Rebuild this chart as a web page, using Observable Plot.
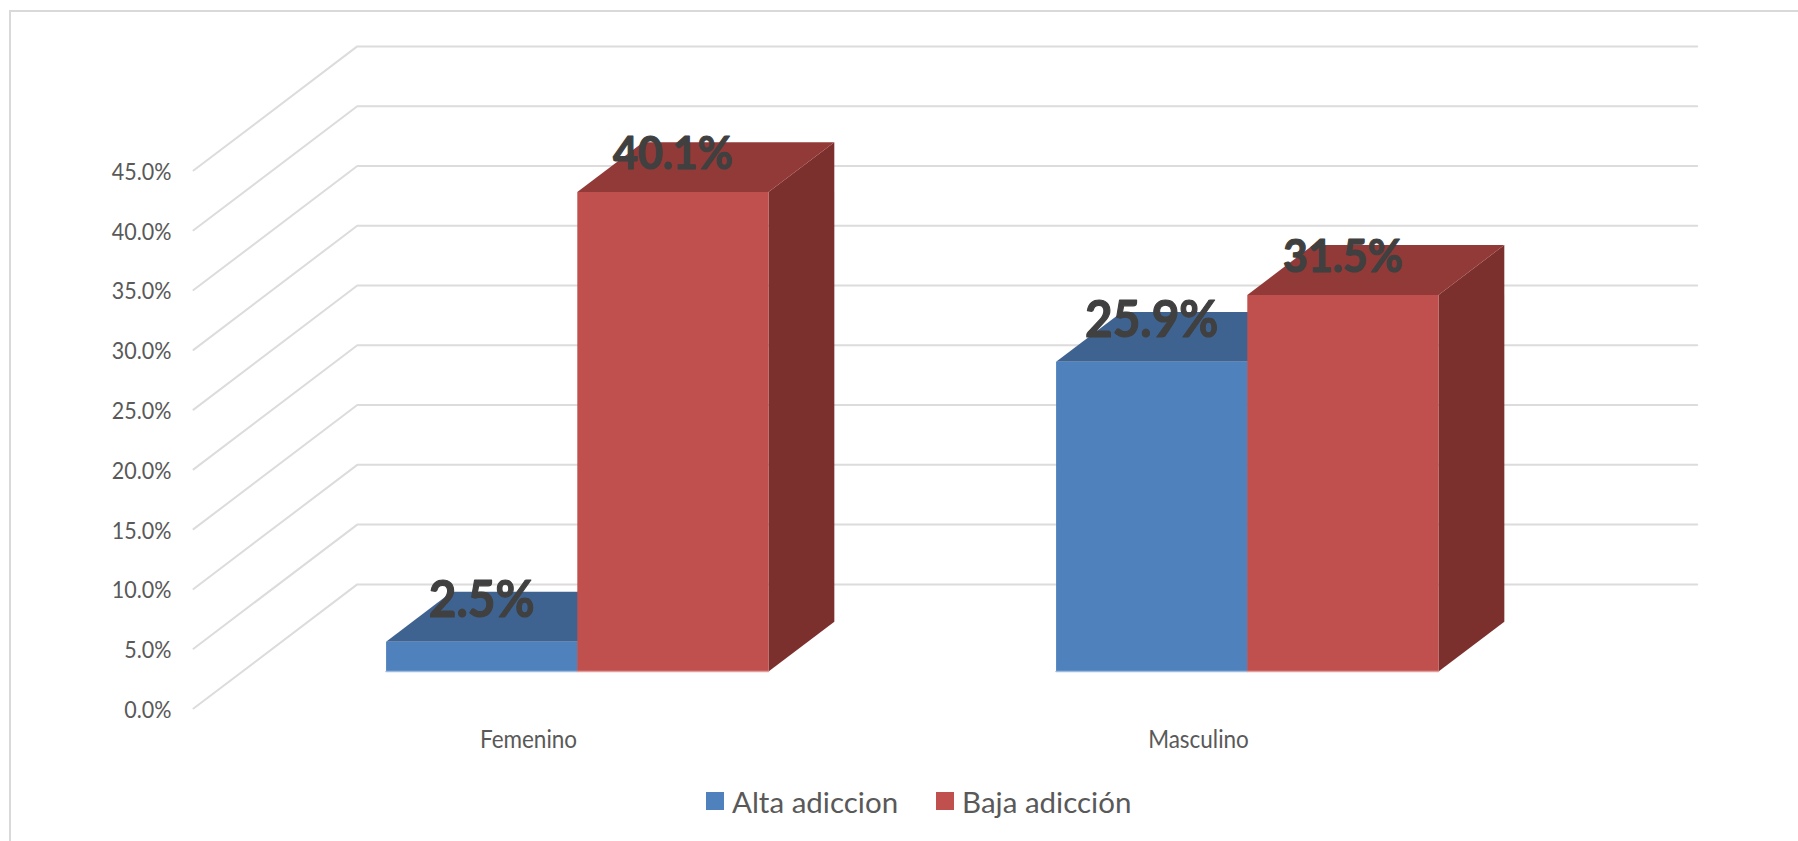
<!DOCTYPE html>
<html>
<head>
<meta charset="utf-8">
<script src="https://cdn.jsdelivr.net/npm/d3@7"></script>
<script src="https://cdn.jsdelivr.net/npm/@observablehq/plot@0.6"></script>
<style>
  html, body { margin: 0; padding: 0; background: #fff; overflow: hidden; }
  #frame { position: absolute; left: 9px; top: 10px; width: 1789px; height: 831px; border-top: 2px solid #d9d9d9; border-left: 2px solid #d9d9d9; box-sizing: border-box; pointer-events: none; }
  #chart svg { display: block; }
  #legend { position: absolute; left: 706px; top: 779px; height: 44px; display: flex; align-items: center; font: 29.5px Lato, sans-serif; color: #595959; }
  #legend i { display: inline-block; width: 18px; height: 18px; margin-right: 8px; }
  #legend span { margin-right: 38px; }
</style>
</head>
<body>
<div id="frame"></div>
<div id="chart"></div>
<div id="legend"></div>
<script>
const categories = ["Femenino", "Masculino"];
const seriesNames = ["Alta adiccion", "Baja adicción"];
const altaValues = [2.5, 25.9];
const bajaValues = [40.1, 31.5];
const yTicks = [0, 5, 10, 15, 20, 25, 30, 35, 40, 45];

const frontColors = ["#4F81BD", "#C0504D"];
const topColors = ["#3F6391", "#923A38"];
const sideColors = ["#3F6391", "#7C302E"];
const edgeColors = ["#9DBBDF", "#E29E9C"];
const gridColor = "#DCDCDC";
const labelSizes = [51.3, 46];
const labelOffsets = [-41, -37.5];

// oblique projection of the chart's depth axis, in data units per unit of depth
const depthX = 0.2444;
const depthY = 10.38;
const barFront = 0.298;
const barBack = 0.70;
const barStart = 0.2146;
const barWidth = 0.2854;
const px = (u, d) => u + d * depthX;
const py = (v, d) => v + d * depthY;

const gridRows = yTicks.flatMap((v) => [
  {v, x: px(0, 0), y: py(v, 0)},
  {v, x: px(0, 1), y: py(v, 1)},
  {v, x: px(2, 1), y: py(v, 1)}
]);

const values = [altaValues, bajaValues];
const marks = [
  Plot.line(gridRows, {x: "x", y: "y", z: "v", stroke: gridColor, strokeWidth: 2, curve: "linear"})
];
const labels = [[], []];
categories.forEach((c, ci) => {
  values.forEach((vals, si) => {
    const v = vals[ci];
    const x1 = ci + barStart + si * barWidth;
    const x2 = x1 + barWidth;
    const top = [
      {x: px(x1, barFront), y: py(v, barFront)},
      {x: px(x1, barBack), y: py(v, barBack)},
      {x: px(x2, barBack), y: py(v, barBack)},
      {x: px(x2, barFront), y: py(v, barFront)}
    ];
    const side = [
      {x: px(x2, barFront), y: py(v, barFront)},
      {x: px(x2, barBack), y: py(v, barBack)},
      {x: px(x2, barBack), y: py(0, barBack)},
      {x: px(x2, barFront), y: py(0, barFront)}
    ];
    const front = [
      {x: px(x1, barFront), y: py(v, barFront)},
      {x: px(x2, barFront), y: py(v, barFront)},
      {x: px(x2, barFront), y: py(0, barFront)},
      {x: px(x1, barFront), y: py(0, barFront)}
    ];
    marks.push(
      Plot.line(side, {x: "x", y: "y", fill: sideColors[si], stroke: null}),
      Plot.line(top, {x: "x", y: "y", fill: topColors[si], stroke: null}),
      Plot.line(front, {x: "x", y: "y", fill: frontColors[si], stroke: null}),
      Plot.line(front.slice(2), {x: "x", y: "y", stroke: edgeColors[si], strokeWidth: 1.5})
    );
    labels[si].push({
      label: v.toFixed(1) + "%",
      x: px(x1 + barWidth / 2, barFront),
      y: py(v, barFront)
    });
  });
});

const plot = Plot.plot({
  width: 1798,
  height: 770,
  marginLeft: 193,
  marginRight: 265,
  marginTop: 170,
  marginBottom: 62,
  x: {domain: [0, 2]},
  y: {domain: [0, 45]},
  style: {fontFamily: "Lato, sans-serif", background: "transparent", overflow: "visible"},
  marks: [
    ...marks,
    Plot.axisY({
      ticks: yTicks, tickSize: 0, tickPadding: 22, label: null, dy: 2,
      tickFormat: (d) => d.toFixed(1) + "%",
      fontSize: 21.5, fill: "#595959"
    }),
    Plot.axisX({
      ticks: categories.map((c, i) => i + 0.5), tickSize: 0, tickPadding: 22, label: null,
      tickFormat: (d) => categories[d - 0.5],
      fontSize: 22.5, fill: "#595959"
    }),
    ...labels.map((rows, si) => Plot.text(rows, {
      x: "x", y: "y", text: "label", dy: labelOffsets[si],
      fontSize: labelSizes[si], fontWeight: 700, fill: "#404040", stroke: "#404040", strokeWidth: 1.2
    }))
  ]
});
document.getElementById("chart").append(plot);

// the reference's type is set narrow and tall: stretch the rendered labels the same way
const stretch = (sel, sx, sy) => plot.querySelectorAll(sel).forEach((t) => {
  const tr = t.getAttribute("transform") || "";
  t.setAttribute("transform", `${tr} scale(${sx},${sy})`);
});
stretch('g[aria-label="text"] text', 0.93, 1);
stretch('g[aria-label="y-axis tick label"] text', 1, 1.08);
stretch('g[aria-label="x-axis tick label"] text', 1, 1.08);

const legend = document.getElementById("legend");
seriesNames.forEach((name, i) => {
  const sw = document.createElement("i");
  sw.style.background = frontColors[i];
  const t = document.createElement("span");
  t.textContent = name;
  legend.append(sw, t);
});
</script>
</body>
</html>
